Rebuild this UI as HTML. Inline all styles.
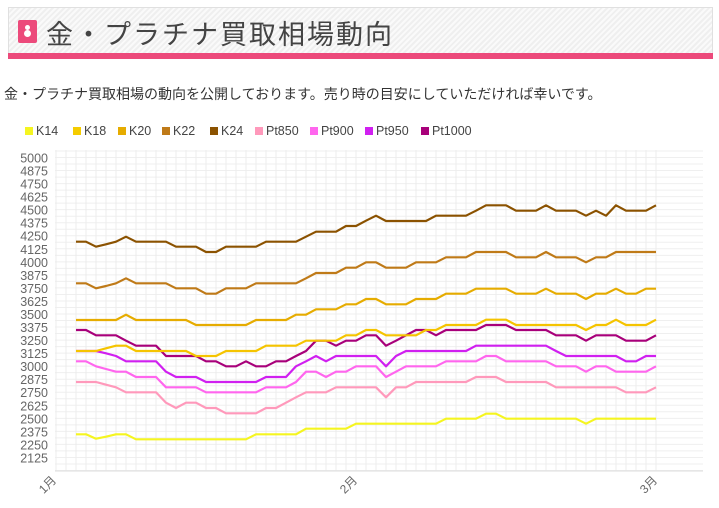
<!DOCTYPE html>
<html><head><meta charset="utf-8"><style>
body{margin:0;width:719px;height:508px;background:#fff;font-family:"Liberation Sans","Noto Sans CJK JP",sans-serif;overflow:hidden;position:relative}
.hd{position:absolute;left:8px;top:7px;width:703px;height:45px;border:1px solid #e0e0e0;border-bottom:none;background:repeating-linear-gradient(135deg,#fafafa 0 2px,#efefef 2px 4px)}
.bar{position:absolute;left:8px;top:53px;width:705px;height:6px;background:#ec4a7b}
.ic{position:absolute;left:18px;top:20px;width:19px;height:23px;background:#ec4a7b;border-radius:2px}
.ic:after{content:"";position:absolute;left:7px;top:5px;width:5px;height:5px;border-radius:50%;background:#fff;box-shadow:0 6px 0 1px #fff}
.tt{position:absolute;left:46px;top:13px;font-size:27px;color:#444;letter-spacing:2px}
.sub{position:absolute;left:4px;top:84px;font-size:14px;color:#333}
.lg{position:absolute;top:124px;font-size:12.5px;color:#444}
.lg i{display:inline-block;width:8px;height:8px;margin-right:3px;vertical-align:0}
</style></head><body>
<div class="hd"></div><div class="bar"></div><div class="ic"></div>
<div class="tt">金・プラチナ買取相場動向</div>
<div class="sub">金・プラチナ買取相場の動向を公開しております。売り時の目安にしていただければ幸いです。</div>
<div class="lg" style="left:25px"><i style="background:#f5f520"></i>K14</div>
<div class="lg" style="left:73px"><i style="background:#f5cc00"></i>K18</div>
<div class="lg" style="left:118px"><i style="background:#e6ac00"></i>K20</div>
<div class="lg" style="left:162px"><i style="background:#bf7a18"></i>K22</div>
<div class="lg" style="left:210px"><i style="background:#8b5200"></i>K24</div>
<div class="lg" style="left:255px"><i style="background:#ff99bb"></i>Pt850</div>
<div class="lg" style="left:310px"><i style="background:#ff66ee"></i>Pt900</div>
<div class="lg" style="left:365px"><i style="background:#d020f0"></i>Pt950</div>
<div class="lg" style="left:421px"><i style="background:#a8007a"></i>Pt1000</div>
<svg id="s" width="719" height="508" style="position:absolute;left:0;top:0"></svg>
<script>
var s=document.getElementById('s'),h='';
for(var y=151;y<=471;y+=6.52)h+='<line x1="55" x2="703" y1="'+y+'" y2="'+y+'" stroke="#efefef"/>';
for(var x=56;x<=656;x+=10)h+='<line x1="'+x+'" x2="'+x+'" y1="150" y2="471" stroke="#ececec"/>';
h+='<line x1="55" x2="703" y1="471" y2="471" stroke="#ddd"/>';
for(var i=0;i<24;i++){var v=5000-125*i,yy=158+i*13.04;h+='<text x="48" y="'+(yy+4.5)+'" text-anchor="end" font-size="12.5" fill="#666">'+v+'</text>';}
[['1月',55],['2月',356],['3月',656]].forEach(function(m){h+='<text transform="translate('+(m[1]+2)+',481) rotate(-45)" text-anchor="end" font-size="12" fill="#666">'+m[0]+'</text>';});
var D={
'#f5f520':[733,733,746,740,733,733,748,748,748,748,748,748,748,748,748,748,748,748,733,733,733,733,733,716,716,716,716,716,701,701,701,701,701,701,701,701,701,686,686,686,686,671,671,686,686,686,686,686,686,686,686,701,686,686,686,686,686,686,686],
'#ff99bb':[576,576,576,584,592,607,607,607,607,638,654,638,638,654,654,670,670,670,670,654,654,638,622,607,607,607,592,592,592,592,592,622,592,592,576,576,576,576,576,576,561,561,561,576,576,576,576,576,592,592,592,592,592,592,592,607,607,607,592],
'#ff66ee':[514,514,529,537,545,545,561,561,561,592,592,592,592,607,607,607,607,607,607,592,592,592,576,545,545,561,545,545,529,529,529,561,545,529,529,529,529,514,514,514,514,498,498,514,514,514,514,514,529,529,529,545,529,529,545,545,545,545,529],
'#d020f0':[483,483,483,490,498,514,514,514,514,545,561,561,561,576,576,576,576,576,576,561,561,561,529,514,498,514,498,498,498,498,498,529,498,483,483,483,483,483,483,483,467,467,467,467,467,467,467,467,483,498,498,498,498,498,498,514,514,498,498],
'#a8007a':[420,420,436,436,436,452,467,467,467,498,498,498,498,514,514,529,529,514,529,529,514,514,498,483,452,452,467,452,452,436,436,467,452,436,420,420,436,420,420,420,420,405,405,405,420,420,420,420,436,436,436,452,436,436,436,452,452,452,436],
'#f5c400':[483,483,483,475,467,467,483,483,483,483,483,483,498,498,498,483,483,483,483,467,467,467,467,452,452,452,452,436,436,420,420,436,436,436,436,420,420,405,405,405,405,389,389,389,405,405,405,405,405,405,405,420,405,405,389,405,405,405,389],
'#e6ac00':[390,390,390,390,390,374,390,390,390,390,390,390,405,405,405,405,405,405,390,390,390,390,374,374,358,358,358,343,343,327,327,343,343,343,327,327,327,311,311,311,296,296,296,296,311,311,311,296,311,311,311,327,311,311,296,311,311,296,296],
'#bf7a18':[280,280,295,288,280,265,280,280,280,280,295,295,295,311,311,295,295,295,280,280,280,280,280,265,249,249,249,233,233,217,217,233,233,233,217,217,217,202,202,202,186,186,186,186,202,202,202,186,202,202,202,217,202,202,186,186,186,186,186],
'#8b5200':[155,155,170,163,155,140,155,155,155,155,170,170,170,186,186,170,170,170,170,155,155,155,155,140,125,125,125,108,108,92,77,93,93,93,93,93,77,77,77,77,62,46,46,46,62,62,62,46,62,62,62,77,62,77,46,62,62,62,46]};
for(var c in D){var p=D[c].map(function(z,i){return (76+10*i)+','+(190+z/3).toFixed(1)}).join(' ');h+='<polyline points="'+p+'" fill="none" stroke="'+c+'" stroke-width="2.2" stroke-linejoin="round"/>';}
s.innerHTML=h;
</script>
</body></html>
